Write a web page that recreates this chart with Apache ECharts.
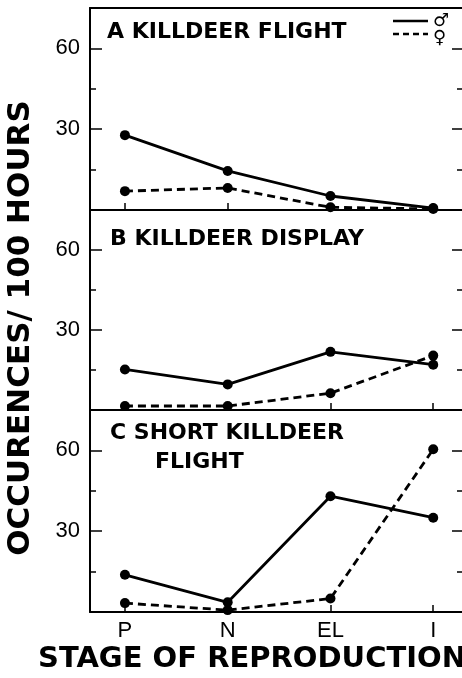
<!DOCTYPE html>
<html>
<head>
<meta charset="utf-8">
<script src="https://cdn.jsdelivr.net/npm/echarts@6/dist/echarts.min.js"></script>
<style>
  html, body { margin: 0; padding: 0; background: #fff; }
  #chart { width: 462px; height: 678px; }
</style>
</head>
<body>
<div id="chart"></div>
<script>
// stages of reproduction (x categories)
var stages = ['P', 'N', 'EL', 'I'];
var stageIdx = [0, 1, 2, 3];
var yLabels = [30, 60];
var yMinor = [15, 45];

// occurences / 100 hours
var flightMale = [27.8, 14.5, 5.2, 0.7];
var flightFemale = [7, 8.2, 1, 0.4];
var displayMale = [15.2, 9.6, 21.8, 17];
var displayFemale = [1.5, 1.5, 6.3, 20.4];
var shortMale = [13.8, 3.6, 43, 35];
var shortFemale = [3.3, 0.7, 5, 60.4];

var panels = [
  { male: flightMale, female: flightFemale, top: 8, height: 202 },
  { male: displayMale, female: displayFemale, top: 210, height: 200 },
  { male: shortMale, female: shortFemale, top: 410, height: 202 }
];

function pairs(vals) {
  return vals.map(function (v, i) { return [stageIdx[i], v]; });
}

var blackLine = { color: '#000', width: 2 };
var tickLine = { color: '#000', width: 1.5 };

function yAxis(k, pos, ticks, len, labels, line) {
  return {
    type: 'value', gridIndex: k, position: pos, min: 0, max: 75,
    axisLine: { show: line, onZero: false, lineStyle: blackLine },
    splitLine: { show: false },
    axisTick: { show: true, inside: true, length: len, customValues: ticks, lineStyle: tickLine },
    axisLabel: labels ? { customValues: yLabels, margin: 10, color: '#000',
      fontSize: 22, fontFamily: 'Liberation Sans' } : { show: false }
  };
}

var chart = echarts.init(document.getElementById('chart'));
var grids = [], xAxes = [], yAxes = [], series = [];

panels.forEach(function (p, k) {
  grids.push({ left: 90, right: 0, top: p.top, height: p.height });
  xAxes.push({
    type: 'value', gridIndex: k, min: -0.34, max: 3.28,
    axisLine: { show: true, onZero: false, lineStyle: blackLine }, splitLine: { show: false },
    axisTick: { show: true, inside: true, length: 7, customValues: stageIdx, lineStyle: tickLine },
    axisLabel: { show: k === 2, customValues: stageIdx, margin: 8,
      formatter: function (v) { return stages[v]; },
      color: '#000', fontSize: 22, fontFamily: 'Liberation Sans' }
  });
  yAxes.push(yAxis(k, 'left', yLabels, 12, true, true));
  yAxes.push(yAxis(k, 'left', yMinor, 6, false, false));
  yAxes.push(yAxis(k, 'right', yLabels, 10, false, false));
  yAxes.push(yAxis(k, 'right', yMinor, 5, false, false));
  series.push({
    type: 'line', xAxisIndex: k, yAxisIndex: 4 * k, data: pairs(p.male),
    symbol: 'circle', symbolSize: 10, color: '#000',
    lineStyle: { color: '#000', width: 2.8 }, itemStyle: { color: '#000' }, z: 3
  });
  series.push({
    type: 'line', xAxisIndex: k, yAxisIndex: 4 * k, data: pairs(p.female),
    symbol: 'circle', symbolSize: 10, color: '#000',
    lineStyle: { color: '#000', width: 2.8, type: [8, 5] }, itemStyle: { color: '#000' }, z: 3
  });
});
// top frame line of panel A
xAxes.push({
  type: 'value', gridIndex: 0, position: 'top', min: -0.34, max: 3.28,
  axisLine: { show: true, onZero: false, lineStyle: blackLine },
  axisTick: { show: false }, axisLabel: { show: false }, splitLine: { show: false }
});

var titleFont = { fontFamily: 'DejaVu Sans', fontWeight: 'bold', fontSize: 22, fill: '#000',
  verticalAlign: 'middle' };

chart.setOption({
  animation: false,
  grid: grids,
  xAxis: xAxes,
  yAxis: yAxes,
  series: series,
  graphic: [
    { type: 'text', x: 107, y: 32, style: Object.assign({ text: 'A KILLDEER FLIGHT' }, titleFont) },
    { type: 'text', x: 110, y: 239, style: Object.assign({ text: 'B KILLDEER DISPLAY' }, titleFont) },
    { type: 'text', x: 110, y: 433, style: Object.assign({ text: 'C SHORT KILLDEER' }, titleFont) },
    { type: 'text', x: 155, y: 462, style: Object.assign({ text: 'FLIGHT' }, titleFont) },
    // legend
    { type: 'line', shape: { x1: 393, y1: 21, x2: 428, y2: 21 }, style: { stroke: '#000', lineWidth: 2.5 } },
    { type: 'line', shape: { x1: 393, y1: 34, x2: 428, y2: 34 }, style: { stroke: '#000', lineWidth: 2.5, lineDash: [6, 4] } },
    { type: 'text', x: 433, y: 21, style: { text: '\u2642', fontFamily: 'DejaVu Sans', fontSize: 18, fill: '#000', verticalAlign: 'middle' } },
    { type: 'text', x: 433, y: 38, style: { text: '\u2640', fontFamily: 'DejaVu Sans', fontSize: 18, fill: '#000', verticalAlign: 'middle' } },
    // axis titles
    { type: 'text', x: 21, y: 328, rotation: Math.PI / 2,
      style: { text: 'OCCURENCES/ 100 HOURS', fontFamily: 'DejaVu Sans', fontWeight: 'bold',
        fontSize: 31, fill: '#000', align: 'center', verticalAlign: 'middle' } },
    { type: 'text', x: 38, y: 659,
      style: { text: 'STAGE OF REPRODUCTION', fontFamily: 'DejaVu Sans', fontWeight: 'bold',
        fontSize: 29, fill: '#000', verticalAlign: 'middle' } }
  ]
});
</script>
</body>
</html>
